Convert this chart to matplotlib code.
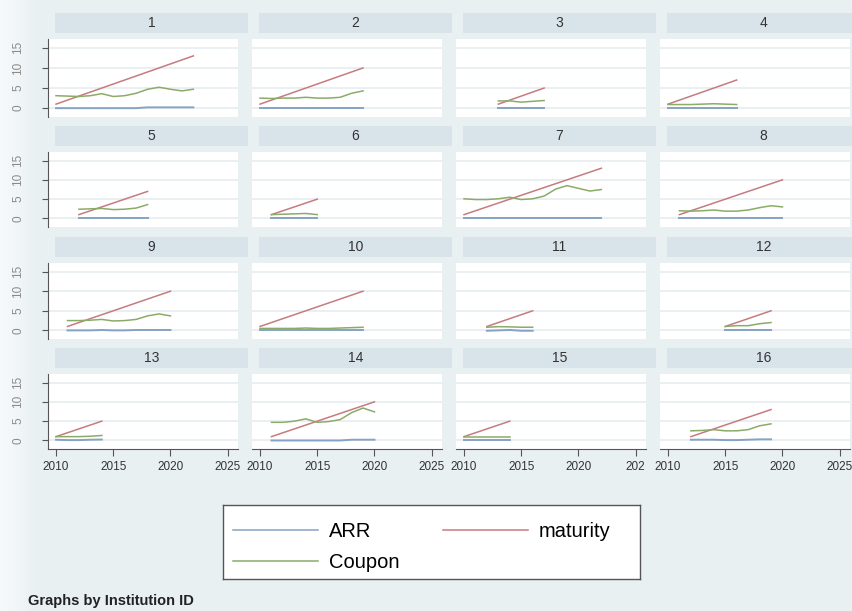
import numpy as np
import matplotlib
matplotlib.use("Agg")
import matplotlib.pyplot as plt
from matplotlib.lines import Line2D

plt.rcParams["font.family"] = ["Liberation Sans", "DejaVu Sans"]

# first year of each institution's series
start_year = [2010, 2010, 2013, 2010,
              2012, 2011, 2010, 2011,
              2011, 2010, 2012, 2015,
              2010, 2011, 2010, 2012]

arr = [
    [0, 0, 0, 0, 0, 0, 0, 0, 0.2, 0.2, 0.2, 0.2, 0.2],
    [0, 0, 0, 0, 0, 0, 0, 0, 0, 0],
    [0, 0, 0, 0, 0],
    [0, 0, 0, 0, 0, 0, 0],
    [0, 0, 0, 0, 0, 0, 0],
    [0, 0, 0, 0, 0],
    [0, 0, 0, 0, 0, 0, 0, 0, 0, 0, 0, 0, 0],
    [0, 0, 0, 0, 0, 0, 0, 0, 0, 0],
    [0, 0, 0, 0.1, 0, 0, 0.1, 0.1, 0.1, 0.1],
    [0, 0, 0, 0, 0, 0, 0, 0, 0, 0],
    [-0.1, 0, 0.1, -0.1, -0.1],
    [0, 0, 0, 0, 0],
    [0.2, 0.1, 0.1, 0.2, 0.25],
    [0, 0, 0, 0, 0, 0, 0, 0.2, 0.2, 0.2],
    [0.1, 0.1, 0.1, 0.1, 0.1],
    [0.2, 0.2, 0.2, 0.1, 0.1, 0.2, 0.3, 0.3],
]

maturity = [
    [1, 2, 3, 4, 5, 6, 7, 8, 9, 10, 11, 12, 13],
    [1, 2, 3, 4, 5, 6, 7, 8, 9, 10],
    [1, 2, 3, 4, 5],
    [1, 2, 3, 4, 5, 6, 7],
    [1, 2, 3, 4, 5, 6, 7],
    [1, 2, 3, 4, 5],
    [1, 2, 3, 4, 5, 6, 7, 8, 9, 10, 11, 12, 13],
    [1, 2, 3, 4, 5, 6, 7, 8, 9, 10],
    [1, 2, 3, 4, 5, 6, 7, 8, 9, 10],
    [1, 2, 3, 4, 5, 6, 7, 8, 9, 10],
    [1, 2, 3, 4, 5],
    [1, 2, 3, 4, 5],
    [1, 2, 3, 4, 5],
    [1, 2, 3, 4, 5, 6, 7, 8, 9, 10],
    [1, 2, 3, 4, 5],
    [1, 2, 3, 4, 5, 6, 7, 8],
]

coupon = [
    [3.1, 3.0, 2.9, 3.1, 3.6, 2.9, 3.1, 3.7, 4.7, 5.2, 4.7, 4.3, 4.7],
    [2.5, 2.4, 2.5, 2.5, 2.7, 2.5, 2.5, 2.7, 3.7, 4.3],
    [1.8, 1.8, 1.5, 1.7, 1.9],
    [0.9, 0.9, 0.9, 1.0, 1.1, 1.0, 0.9],
    [2.4, 2.5, 2.6, 2.3, 2.4, 2.7, 3.6],
    [1.0, 1.1, 1.2, 1.3, 1.0],
    [5.1, 4.9, 4.9, 5.1, 5.5, 4.9, 5.1, 5.8, 7.6, 8.5, 7.8, 7.1, 7.5],
    [2.0, 1.9, 2.0, 2.2, 1.9, 1.9, 2.2, 2.8, 3.3, 3.0],
    [2.5, 2.5, 2.6, 2.8, 2.4, 2.5, 2.8, 3.7, 4.2, 3.7],
    [0.5, 0.5, 0.5, 0.5, 0.6, 0.5, 0.5, 0.6, 0.7, 0.8],
    [0.8, 0.95, 0.9, 0.8, 0.8],
    [1.0, 1.2, 1.2, 1.7, 2.0],
    [1.0, 1.0, 1.0, 1.1, 1.3],
    [4.7, 4.7, 5.0, 5.6, 4.7, 4.9, 5.4, 7.2, 8.4, 7.4],
    [0.8, 0.8, 0.8, 0.8, 0.8],
    [2.5, 2.6, 2.8, 2.5, 2.5, 2.8, 3.8, 4.3],
]

y_ticks = [0, 5, 10, 15]
x_ticks = [2010, 2015, 2020, 2025]

W, H = 853, 611
BG = "#e9f0f2"
STRIP = "#d8e4ea"
C_ARR = "#86a3c3"
C_MAT = "#c67b7f"
C_CPN = "#8cab69"

fig = plt.figure(figsize=(W / 100, H / 100), dpi=100, facecolor=BG)


def px_axes(x, y, w, h, **kw):
    return fig.add_axes([x / W, 1 - (y + h) / H, w / W, h / H], **kw)


# soft light band on the left edge
grad = px_axes(0, 0, 40, H)
grad.imshow(np.linspace(0, 1, 64)[None, :],
            cmap=matplotlib.colors.LinearSegmentedColormap.from_list("g", ["#f7fafb", BG]),
            aspect="auto", extent=(0, 1, 0, 1))
grad.set_axis_off()

col_left = [48, 252, 456, 660]
row_top = [39, 152, 263, 374]
row_h = [78, 75, 76, 75]
pw = 190

for i in range(16):
    r, c = divmod(i, 4)
    x0, y0, h = col_left[c], row_top[r], row_h[r]

    strip = px_axes(x0 + 7, y0 - 26, 193, 20)
    strip.set_facecolor(STRIP)
    strip.set_xticks([])
    strip.set_yticks([])
    for s in strip.spines.values():
        s.set_visible(False)
    strip.text(0.5, 0.5, str(i + 1), ha="center", va="center", fontsize=10, color="#333333")

    ax = px_axes(x0, y0, pw, h)
    ax.set_facecolor("white")
    years = list(range(start_year[i], start_year[i] + len(maturity[i])))
    ax.plot(years, arr[i], color=C_ARR, lw=1.4, zorder=3)
    ax.plot(years, maturity[i], color=C_MAT, lw=1.1, zorder=3)
    ax.plot(years, coupon[i], color=C_CPN, lw=1.1, zorder=3)
    ax.set_xlim(2009.3, 2025.9)
    ax.set_ylim(-2.2, 17.2)
    ax.set_yticks(y_ticks)
    ax.set_xticks(x_ticks)
    ax.grid(axis="y", color="#e6eef0", lw=1.2, zorder=1)
    ax.set_axisbelow(True)
    for s in ax.spines.values():
        s.set_visible(False)

    if c == 0:
        ax.spines["left"].set_visible(True)
        ax.spines["left"].set_color("#555555")
        ax.tick_params(axis="y", length=4, color="#555555", pad=13,
                       labelsize=8.5, labelcolor="#8a8a8a", labelrotation=90)
        for lab in ax.get_yticklabels():
            lab.set_va("center")
    else:
        ax.tick_params(axis="y", length=0, labelleft=False)

    if r == 3:
        ax.spines["bottom"].set_visible(True)
        ax.spines["bottom"].set_color("#555555")
        ax.tick_params(axis="x", length=5, color="#555555", pad=4,
                       labelsize=8.5, labelcolor="#333333")
        if c == 2:
            ax.set_xticklabels(["2010", "2015", "2020", "202"])
    else:
        ax.tick_params(axis="x", length=0, labelbottom=False)

# legend box
lax = px_axes(223, 505, 417, 74)
lax.set_facecolor("white")
lax.set_xticks([])
lax.set_yticks([])
for s in lax.spines.values():
    s.set_color("#555555")
    s.set_linewidth(1.0)

handles = [Line2D([], [], color=C_ARR, lw=1.1),
           Line2D([], [], color=C_CPN, lw=1.1),
           Line2D([], [], color=C_MAT, lw=1.1)]
lax.legend(handles, ["ARR", "Coupon", "maturity"], ncol=2,
           loc="upper left", bbox_to_anchor=(10 / 417, 1 - 17 / 74),
           frameon=False, fontsize=14.5,
           handlelength=4.2, handletextpad=0.55, columnspacing=2.2,
           labelspacing=0.6, borderpad=0, borderaxespad=0)

fig.text(28 / W, 1 - 601 / H, "Graphs by Institution ID", fontsize=10.5,
         fontweight="bold", color="#222222", va="center", ha="left")

fig.savefig("out.png", dpi=100, facecolor=BG)
